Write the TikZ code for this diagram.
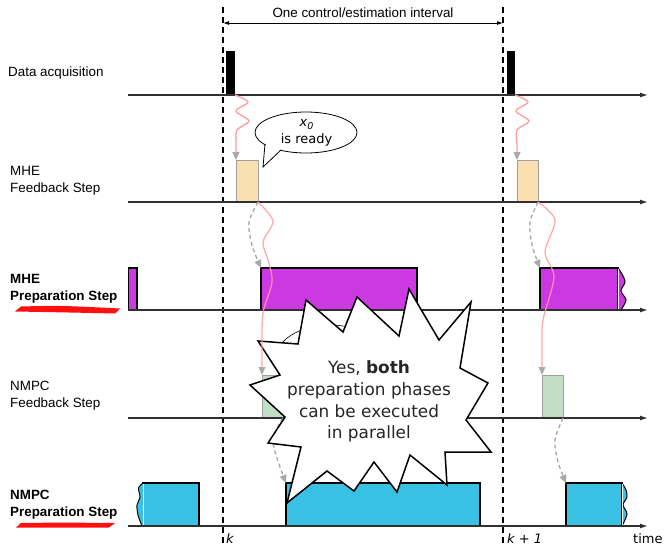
\documentclass[tikz,border=0pt]{standalone}
\usepackage{fontspec}
\setmainfont{Liberation Sans}
\newfontfamily\dejavu{DejaVu Sans}
\usetikzlibrary{arrows.meta,calc}

\definecolor{axisgray}{HTML}{303030}
\definecolor{feedorange}{HTML}{FADFB0}
\definecolor{prepviolet}{HTML}{CC39E2}
\definecolor{feedgreen}{HTML}{C2DFC6}
\definecolor{prepcyan}{HTML}{39C1E4}
\definecolor{flowpink}{HTML}{FF9C9C}
\definecolor{tipgray}{HTML}{A8A8A8}
\definecolor{brushred}{HTML}{FF1010}

\begin{document}
\begin{tikzpicture}[x=1pt,y=-1pt,
  timeline/.style={draw=axisgray,line width=1.2pt,-{Latex[length=8pt,width=5pt]}},
  kline/.style={draw=black,line width=1.1pt,dash pattern=on 6pt off 4pt},
  lbl/.style={anchor=west,inner sep=0pt,align=left,font=\fontsize{13.4}{17}\selectfont},
  blbl/.style={lbl,font=\fontsize{13.4}{17}\selectfont\bfseries},
  slot/.style={anchor=south west,inner sep=0pt,outer sep=0pt},
  acqbar/.style={slot,fill=black,minimum width=9pt,minimum height=44pt},
  feedbox/.style={slot,draw=gray!75,line width=1pt,minimum height=42pt},
  prepbox/.style={slot,draw=black,line width=1.1pt,minimum height=42pt},
  wave/.style={draw=flowpink,line width=1.3pt,-{Triangle[length=8pt,width=7pt,color=tipgray]}},
  handoff/.style={draw=tipgray,line width=1.3pt,dash pattern=on 4pt off 3pt,-{Triangle[length=8pt,width=7pt,color=tipgray]}},
  burst/.style={draw=black,fill=white,line width=1.5pt,line join=miter},
  shout/.style={align=center,inner sep=0pt,font=\dejavu\fontsize{16.9}{21.8}\selectfont,text=black!85},
]
\useasboundingbox (0,0) rectangle (665,546);

% time axes
\coordinate (t1s) at (128,95);  \coordinate (t1e) at (648,95);
\coordinate (t2s) at (128,202); \coordinate (t2e) at (648,202);
\coordinate (t3s) at (128,310); \coordinate (t3e) at (648,310);
\coordinate (t4s) at (128,418); \coordinate (t4e) at (648,418);
\coordinate (t5s) at (128,526); \coordinate (t5e) at (648,526);

% sampling instants
\coordinate (k0top) at (223,7);  \coordinate (k0bot) at (223,546);
\coordinate (k1top) at (503,7);  \coordinate (k1bot) at (503,546);
\draw[kline] (k0top) -- (k0bot);
\draw[kline] (k1top) -- (k1bot);

% interval marker
\coordinate (ivl) at (223,23); \coordinate (ivr) at (503,23);
\draw[line width=0.8pt,{Latex[length=6pt,width=4pt]}-{Latex[length=6pt,width=4pt]}] (ivl) -- (ivr);
\node[inner sep=0pt,font=\fontsize{13.4}{16}\selectfont] (ivtext) at (363,13) {One control/estimation interval};

% row labels
\node[lbl] (lda) at (8,73) {Data acquisition};
\node[lbl] (lmf) at (10,180.5) {MHE\\Feedback Step};
\node[blbl] (lmp) at (10,289) {MHE\\Preparation Step};
\node[lbl] (lnf) at (10,395.5) {NMPC\\Feedback Step};
\node[blbl] (lnp) at (10,505) {NMPC\\Preparation Step};

% red brush strokes under the bold labels
\fill[brushred] (15,311.5) -- (21,306.5) .. controls (60,305.5) .. (120,308.5) -- (115,313.5) .. controls (70,312.5) .. (15,311.5) -- cycle;
\fill[brushred] (16,527.5) -- (21,523) .. controls (60,522.5) .. (115,523) -- (109,527.5) .. controls (60,527.5) .. (16,527.5) -- cycle;

% data acquisition pulses
\node[acqbar] (acq1) at (226,95) {};
\node[acqbar,minimum width=8pt] (acq2) at (507,95) {};

% MHE feedback
\node[feedbox,fill=feedorange,minimum width=22pt] (mf1) at (236,202) {};
\node[feedbox,fill=feedorange,minimum width=21pt] (mf2) at (517,202) {};

% MHE preparation
\node[prepbox,fill=prepviolet,minimum width=8.5pt] (mp0) at (128.5,310) {};
\node[prepbox,fill=prepviolet,minimum width=156pt] (mp1) at (261,310) {};
\node[prepbox,fill=prepviolet,minimum width=78pt] (mp2) at (540,310) {};
\fill[prepviolet] plot[smooth] coordinates {(618,268.5) (622,274) (625,282) (621,291) (626,300) (621,309.5)} -- (618,309.5) -- cycle;
\draw[line width=1pt] plot[smooth] coordinates {(618,268) (622,274) (625,282) (621,291) (626,300) (621,310)};
\draw[white,line width=0.8pt] (618,269) -- (618,309);

% NMPC feedback
\node[feedbox,fill=feedgreen,minimum width=21pt,minimum height=43pt] (nf1) at (262,418) {};
\node[feedbox,fill=feedgreen,minimum width=21pt,minimum height=43pt] (nf2) at (542,418) {};

% NMPC preparation
\node[prepbox,fill=prepcyan,minimum width=56pt,minimum height=43pt] (np0) at (143,526) {};
\fill[prepcyan] plot[smooth] coordinates {(143,483.5) (138.5,488) (140,497) (137,505) (138,515) (142,525.5)} -- (143,525.5) -- cycle;
\draw[line width=1pt] plot[smooth] coordinates {(143,483) (138.5,488) (140,497) (137,505) (138,515) (142,526)};
\draw[white,line width=0.8pt] (143,484) -- (143,525);
\node[prepbox,fill=prepcyan,minimum width=194pt,minimum height=43pt] (np1) at (286,526) {};
\node[prepbox,fill=prepcyan,minimum width=56pt,minimum height=43pt] (np2) at (566,526) {};
\fill[prepcyan] plot[smooth] coordinates {(622,483.5) (626,490) (627,497) (623,505) (627,514) (622,525.5)} -- (622,525.5) -- cycle;
\draw[line width=1pt] plot[smooth] coordinates {(622,483) (626,490) (627,497) (623,505) (627,514) (622,526)};
\draw[white,line width=0.8pt] (622,484) -- (622,525);

% axes on top of the boxes
\draw[timeline] (t1s) -- (t1e);
\draw[timeline] (t2s) -- (t2e);
\draw[timeline] (t3s) -- (t3e);
\draw[timeline] (t4s) -- (t4e);
\draw[timeline] (t5s) -- (t5e);

% estimator hands over to the next preparation phase
\draw[handoff] plot[smooth] coordinates {(mf1.south east) (249,222) (252,245) (mp1.north west)};
\draw[handoff] plot[smooth] coordinates {(mf2.south east) (530,222) (532,245) (mp2.north west)};
\draw[handoff] plot[smooth] coordinates {(nf1.south east) (273,442) (np1.north west)};
\draw[handoff] plot[smooth] coordinates {(nf2.south east) (555,440) (558,462) (np2.north west)};

% callout hidden behind the burst
\draw[line width=0.6pt,fill=white] (330,360) ellipse [x radius=55, y radius=35];

% x0 callout
\draw[line width=0.8pt,fill=white] (306,132.5) ellipse [x radius=51, y radius=20.5];
\coordinate (cb1) at (265,144);
\coordinate (cb2) at (281,150);
\coordinate (ctip) at (263,167);
\fill[white] ($(cb1)+(1,-1.5)$) -- (ctip) -- ($(cb2)+(0,-1.5)$) -- cycle;
\draw[line width=0.8pt,line join=miter] (cb1) -- (ctip) -- (cb2);
\node[align=center,inner sep=0pt,font=\dejavu\fontsize{13}{17}\selectfont] (x0ready) at (306.5,133)
  {\itshape x\raisebox{-0.35ex}{\fontsize{9.5}{10}\selectfont 0}\\is ready};

% burst
\draw[burst] (258,341) -- (298,344) -- (306,300) -- (343,332) -- (357,297) -- (399,336)
  -- (409,289) -- (439,340) -- (471,302) -- (460,368) -- (488,383) -- (466,420)
  -- (491,452) -- (445,452) -- (447,485) -- (410,455) -- (397,492) -- (374,462)
  -- (354,491) -- (327,471) -- (287,503) -- (301,447) -- (268,443) -- (285,417)
  -- (250,385) -- (280,375) -- cycle;
\node[shout] (yes) at (369,401.5) {Yes, \textbf{both}\\preparation phases\\can be executed\\in parallel};

% measurement feeds the estimator, estimate feeds the controller
\draw[wave] plot[smooth] coordinates {(acq1.south east) (248,102) (236,111) (249,121) (237,130) (236,145) (mf1.north west)};
\draw[wave] plot[smooth] coordinates {(acq2.south east) (528,102) (516,111) (529,121) (517,130) (517,145) (mf2.north west)};
\draw[wave,draw opacity=0.85] plot[smooth] coordinates {(mf1.south east) (273,221) (263,242) (268,260) (272,282) (263,313) (262,345) (nf1.north west)};
\draw[wave,draw opacity=0.85] plot[smooth] coordinates {(mf2.south east) (555,220) (545,252) (554,277) (543,320) (542,345) (nf2.north west)};

% time axis labels
\node[inner sep=0pt,font=\dejavu\itshape\fontsize{13}{15}\selectfont] (kk) at (230,539) {k};
\node[inner sep=0pt,anchor=west,font=\dejavu\itshape\fontsize{13}{15}\selectfont] (kk1) at (507,539) {k + 1};
\node[inner sep=0pt,anchor=west,font=\dejavu\fontsize{13}{15}\selectfont] (tlabel) at (633,539) {time};
\end{tikzpicture}
\end{document}
